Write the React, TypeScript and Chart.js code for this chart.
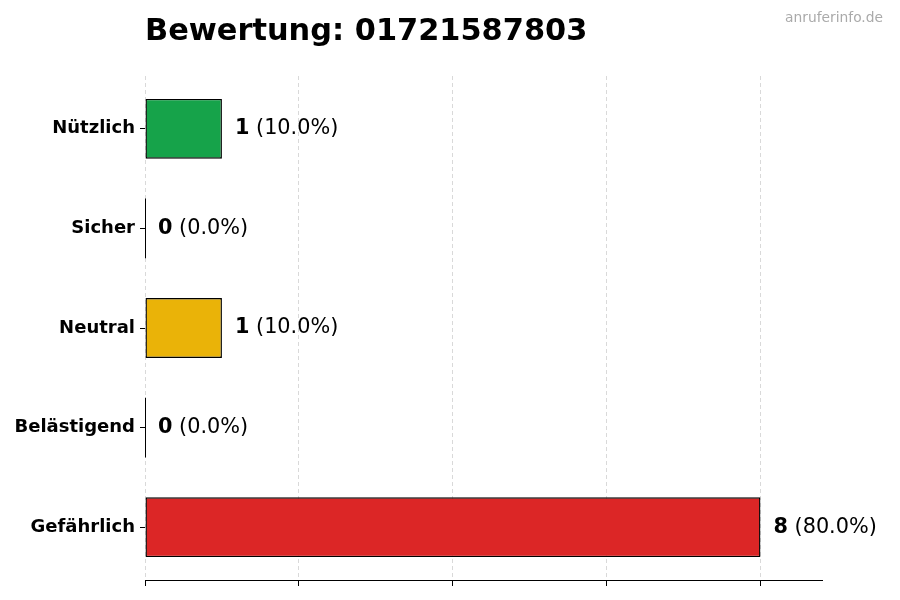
import React, { useEffect, useRef } from 'react';
import Chart from 'chart.js/auto';

// Daten
const categories = ['Nützlich', 'Sicher', 'Neutral', 'Belästigend', 'Gefährlich'];
const counts = [1, 0, 1, 0, 8];
const barColors = ['#16a34a', '#0ea5e9', '#eab308', '#f97316', '#dc2626'];
const xTicks = [0, 2, 4, 6, 8];
const xMax = 8.8;
const titleText = 'Bewertung: 01721587803';
const watermarkText = 'anruferinfo.de';

const FONT = "'DejaVu Sans', sans-serif";

const App: React.FC = () => {
  const chartRef = useRef<HTMLCanvasElement>(null);
  const chartInstance = useRef<Chart | null>(null);

  useEffect(() => {
    if (!chartRef.current) return;
    if (chartInstance.current) {
      chartInstance.current.destroy();
    }
    const ctx = chartRef.current.getContext('2d');
    if (!ctx) return;

    const total = counts.reduce((a, b) => a + b, 0);
    const points = counts.map((v, i) => ({ x: v, y: i }));
    const yTicks = categories.map((_, i) => i);

    // Titel, Wasserzeichen und Wertebeschriftungen
    const labelPlugin = {
      id: 'labelPlugin',
      afterDatasetsDraw(chart: any) {
        const c = chart.ctx;
        const meta = chart.getDatasetMeta(0);
        c.save();
        meta.data.forEach((bar: any, i: number) => {
          const v = counts[i];
          // Nullbalken als dünne Kante
          if (v === 0) {
            c.strokeStyle = '#000';
            c.lineWidth = 1;
            c.beginPath();
            c.moveTo(Math.round(bar.base) + 0.5, bar.y - bar.height / 2);
            c.lineTo(Math.round(bar.base) + 0.5, bar.y + bar.height / 2);
            c.stroke();
          }
          const pct = total ? ((v / total) * 100).toFixed(1) : '0.0';
          let x = bar.x + 13;
          c.textBaseline = 'middle';
          c.textAlign = 'left';
          c.fillStyle = '#000';
          c.font = `bold 20.8px ${FONT}`;
          const num = String(v);
          c.fillText(num, x, bar.y);
          x += c.measureText(num).width;
          c.font = `20.8px ${FONT}`;
          c.fillText(` (${pct}%)`, x, bar.y);
        });
        c.restore();
      },
      afterDraw(chart: any) {
        const c = chart.ctx;
        c.save();
        c.textBaseline = 'alphabetic';
        c.textAlign = 'left';
        c.fillStyle = '#000';
        c.font = `bold 30.4px ${FONT}`;
        c.fillText(titleText, chart.chartArea.left, 40);
        c.textAlign = 'right';
        c.fillStyle = '#aaaaaa';
        c.font = `13.8px ${FONT}`;
        c.fillText(watermarkText, 883, 22);
        c.restore();
      },
    };

    chartInstance.current = new Chart(ctx, {
      type: 'bar',
      data: {
        datasets: [
          {
            data: points,
            backgroundColor: barColors,
            borderColor: '#000',
            borderWidth: 1.4,
            borderSkipped: false,
            categoryPercentage: 1,
            barPercentage: 0.6,
          },
        ],
      },
      options: {
        indexAxis: 'y',
        responsive: false,
        animation: false,
        layout: {
          padding: { top: 76, right: 78, bottom: 0, left: 0 },
        },
        plugins: {
          legend: { display: false },
          tooltip: { enabled: false },
          title: { display: false },
        },
        scales: {
          x: {
            type: 'linear',
            min: 0,
            max: xMax,
            afterBuildTicks: (scale: any) => {
              scale.ticks = xTicks.map((v) => ({ value: v }));
            },
            afterFit: (scale: any) => {
              scale.height = 20;
            },
            ticks: { display: false },
            grid: {
              color: '#d9d9d9',
              lineWidth: 1,
              tickColor: '#000',
              tickLength: 6,
              tickWidth: 1,
            },
            border: {
              display: true,
              color: '#000',
              width: 1,
              dash: [4, 3],
            },
          },
          y: {
            type: 'linear',
            reverse: true,
            offset: false,
            min: -0.53,
            max: categories.length - 1 + 0.53,
            afterBuildTicks: (scale: any) => {
              scale.ticks = yTicks.map((v) => ({ value: v }));
            },
            afterFit: (scale: any) => {
              scale.width = 145;
            },
            ticks: {
              color: '#000',
              padding: 5,
              font: { family: FONT, size: 18, weight: 'bold' },
              callback: (value: any) => categories[Number(value)] ?? '',
            },
            grid: {
              display: true,
              offset: false,
              drawOnChartArea: false,
              tickColor: '#000',
              tickLength: 5,
              tickWidth: 1,
            },
            border: { display: false },
          },
        },
      },
      plugins: [labelPlugin],
    });

    return () => {
      if (chartInstance.current) {
        chartInstance.current.destroy();
        chartInstance.current = null;
      }
    };
  }, []);

  return (
    <div style={{ position: 'fixed', left: 0, top: 0, width: 900, height: 600, background: '#fff' }}>
      <canvas ref={chartRef} width={900} height={600}></canvas>
    </div>
  );
};

export default App;
